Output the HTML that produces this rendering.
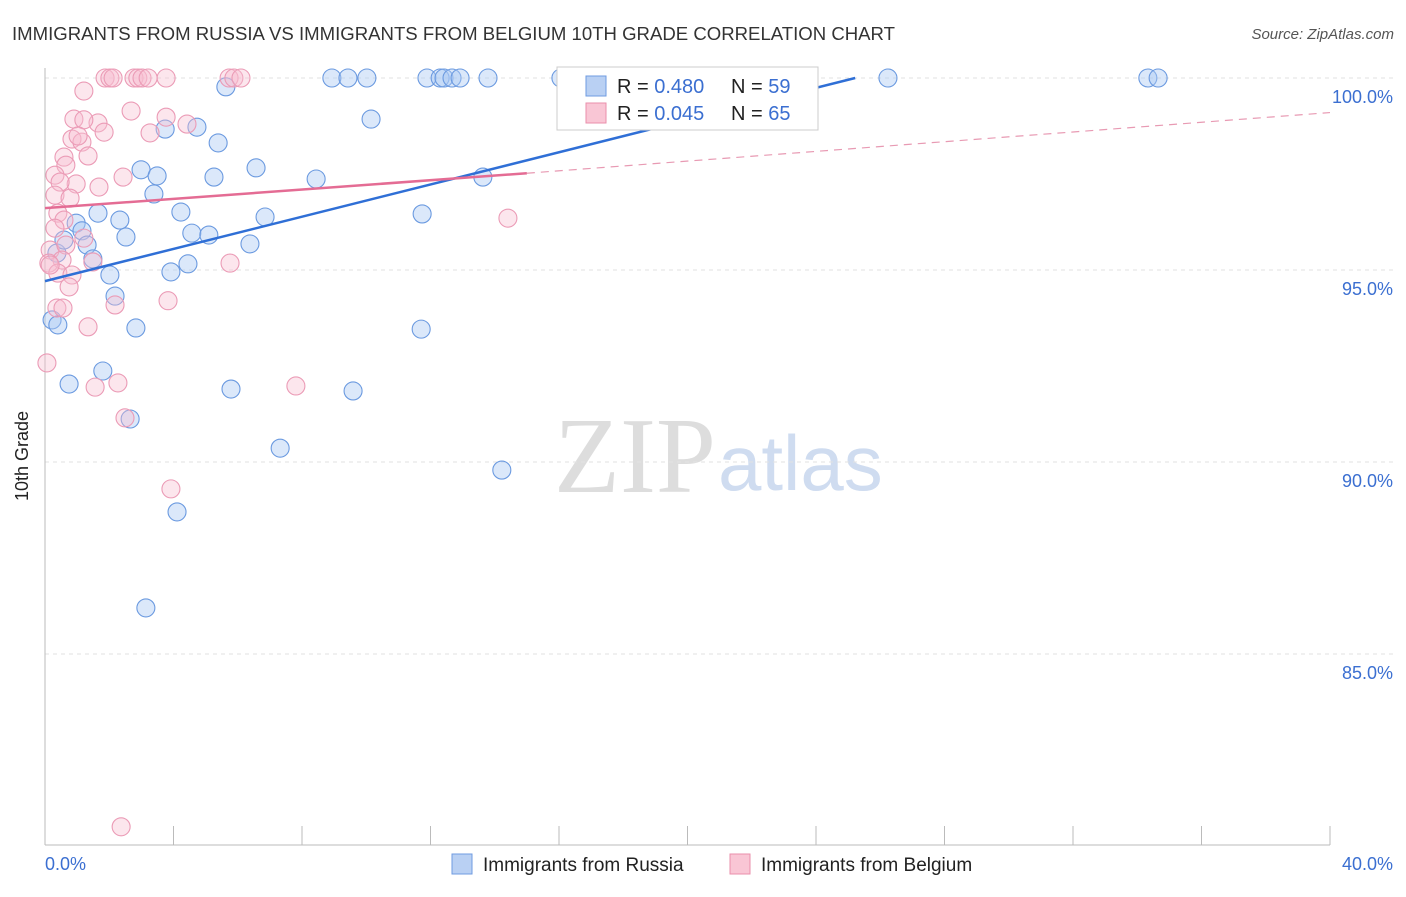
<!DOCTYPE html>
<html><head><meta charset="utf-8"><style>
body{margin:0;background:#fff;font-family:"Liberation Sans",sans-serif}
</style></head><body>
<svg width="1406" height="892" xmlns="http://www.w3.org/2000/svg" style="font-family:'Liberation Sans',sans-serif">
<text x="12" y="40" font-size="18" fill="#333" textLength="883" lengthAdjust="spacingAndGlyphs">IMMIGRANTS FROM RUSSIA VS IMMIGRANTS FROM BELGIUM 10TH GRADE CORRELATION CHART</text>
<text x="1394" y="39" font-size="15" fill="#555" text-anchor="end" font-style="italic">Source: ZipAtlas.com</text>
<text x="716" y="492" font-size="108" fill="#ddd" text-anchor="end" font-family="Liberation Serif">ZIP</text>
<text x="718" y="490" font-size="78" fill="#cfdcf0">atlas</text>
<g id="grid"></g>
<line x1="45" y1="68" x2="45" y2="845" stroke="#bbb"/>
<line x1="45" y1="845" x2="1330" y2="845" stroke="#bbb"/>
<text x="28" y="456" font-size="18" fill="#222" text-anchor="middle" transform="rotate(-90 28 456)">10th Grade</text>
<text x="45" y="870" font-size="18" fill="#3b6fd1">0.0%</text>
<text x="1393" y="870" font-size="18" fill="#3b6fd1" text-anchor="end">40.0%</text>
<g id="pts"></g>
<g id="lines"></g>
<g>
<rect x="557" y="67" width="261" height="63" fill="#fff" stroke="#ccc"/>
<rect x="586" y="76" width="20" height="20" fill="#b9d0f3" stroke="#6f9be0"/>
<rect x="586" y="103" width="20" height="20" fill="#f9c6d5" stroke="#ea8fab"/>
<text x="617" y="93" font-size="20" fill="#222">R = <tspan fill="#3b6fd1">0.480</tspan></text>
<text x="731" y="93" font-size="20" fill="#222">N = <tspan fill="#3b6fd1">59</tspan></text>
<text x="617" y="120" font-size="20" fill="#222">R = <tspan fill="#3b6fd1">0.045</tspan></text>
<text x="731" y="120" font-size="20" fill="#222">N = <tspan fill="#3b6fd1">65</tspan></text>
</g>
<g>
<rect x="452" y="854" width="20" height="20" fill="#b9d0f3" stroke="#6f9be0"/>
<text x="483" y="871" font-size="19" fill="#222">Immigrants from Russia</text>
<rect x="730" y="854" width="20" height="20" fill="#f9c6d5" stroke="#ea8fab"/>
<text x="761" y="871" font-size="19" fill="#222">Immigrants from Belgium</text>
</g>
</svg>
<script>
const yTicks=[100,95,90,85];
const xTickCount=10;
const russia=[[8.93,100],[9.43,100],[10.02,100],[11.89,100],[12.3,100],[12.42,100],[12.67,100],[12.92,100],[13.79,100],[16.06,100],[18.27,100],[21.95,100],[26.24,100],[34.33,100],[34.65,100],[5.63,99.77],[10.15,98.93],[3.74,98.67],[4.73,98.72],[5.39,98.31],[2.99,97.61],[3.49,97.45],[6.57,97.66],[5.26,97.42],[8.44,97.37],[3.39,96.98],[13.63,97.42],[1.65,96.48],[4.23,96.51],[2.33,96.3],[6.85,96.38],[11.74,96.46],[0.97,96.22],[1.15,96.02],[2.52,95.86],[4.57,95.96],[5.1,95.91],[6.38,95.68],[1.31,95.65],[0.37,95.44],[1.49,95.29],[4.45,95.16],[3.92,94.95],[2.02,94.87],[2.18,94.32],[0.22,93.7],[0.4,93.57],[2.83,93.49],[11.71,93.46],[0.75,92.03],[1.8,92.37],[5.79,91.9],[9.59,91.85],[2.65,91.12],[7.32,90.36],[14.22,89.79],[4.11,88.7],[3.14,86.2],[0.59,95.78]];
const belgium=[[1.87,100],[2.02,100],[2.12,100],[2.77,100],[2.89,100],[3.02,100],[3.21,100],[3.77,100],[5.73,100],[5.88,100],[6.1,100],[1.21,99.66],[2.68,99.14],[0.9,98.93],[3.77,98.98],[4.42,98.8],[1.65,98.83],[1.21,98.91],[1.84,98.59],[3.27,98.57],[0.84,98.41],[1.15,98.33],[1.03,98.49],[1.34,97.97],[0.59,97.94],[0.65,97.73],[0.31,97.47],[2.43,97.42],[0.97,97.24],[1.68,97.16],[0.47,97.29],[0.31,96.95],[0.78,96.87],[0.4,96.48],[0.59,96.3],[0.31,96.09],[1.21,95.83],[0.16,95.52],[0.65,95.65],[0.53,95.26],[0.12,95.18],[0.4,94.92],[0.84,94.87],[5.76,95.18],[0.75,94.56],[3.83,94.2],[2.18,94.09],[0.37,94.01],[0.56,94.01],[1.34,93.52],[0.06,92.58],[1.56,91.95],[2.27,92.06],[7.81,91.98],[2.49,91.15],[3.92,89.3],[14.41,96.35],[2.37,80.5],[1.49,95.21],[0.16,95.13]];
const russiaFit=[[0,94.71],[25.22,100]];
const belgiumFit=[[0,96.61],[15.0,97.52]];
const belgiumExt=[[15.0,97.52],[40,99.1]];
const sx=v=>45+v*32.125, sy=v=>78+(100-v)*38.4;
const NS='http://www.w3.org/2000/svg';
function mk(t,a,p){const e=document.createElementNS(NS,t);for(const k in a)e.setAttribute(k,a[k]);p.appendChild(e);return e;}
const grid=document.getElementById('grid');
yTicks.forEach(v=>{
 const l=mk('line',{x1:45,x2:1393,y1:sy(v),y2:sy(v),stroke:'#e2e2e2','stroke-dasharray':'4,4'},grid);
 
 
 const t=mk('text',{x:1393,y:sy(v)+25,'font-size':18,fill:'#3b6fd1','text-anchor':'end'},grid);
 t.textContent=v.toFixed(1)+'%';
 
 
});
for(let i=0;i<=xTickCount;i++){
 const x=sx(i*4);
 const l=mk('line',{x1:x,x2:x,y1:826,y2:845,stroke:'#bbb'},grid);
 
 
}
const pts=document.getElementById('pts');
russia.forEach(d=>{const c=mk('circle',{cx:sx(d[0]),cy:sy(d[1]),r:9,fill:'rgba(170,200,242,0.42)',stroke:'#6b9ae0','stroke-width':1.1},pts);
 
 });
belgium.forEach(d=>{const c=mk('circle',{cx:sx(d[0]),cy:sy(d[1]),r:9,fill:'rgba(248,190,208,0.38)',stroke:'#eb9bb6','stroke-width':1.1},pts);
 
 });
const lines=document.getElementById('lines');
function ln(f,col,dash,name,w){const l=mk('line',{x1:sx(f[0][0]),y1:sy(f[0][1]),x2:sx(f[1][0]),y2:sy(f[1][1]),stroke:col,'stroke-width':w},lines);if(dash)l.setAttribute('stroke-dasharray',dash);
 
 }
ln(russiaFit,'#2f6fd6',null,'russia-trend-line',2.5);
ln(belgiumFit,'#e46c94',null,'belgium-trend-line',2.5);
ln(belgiumExt,'#e89ab3','8,6','belgium-trend-extension',1.2);
</script>
</body></html>
